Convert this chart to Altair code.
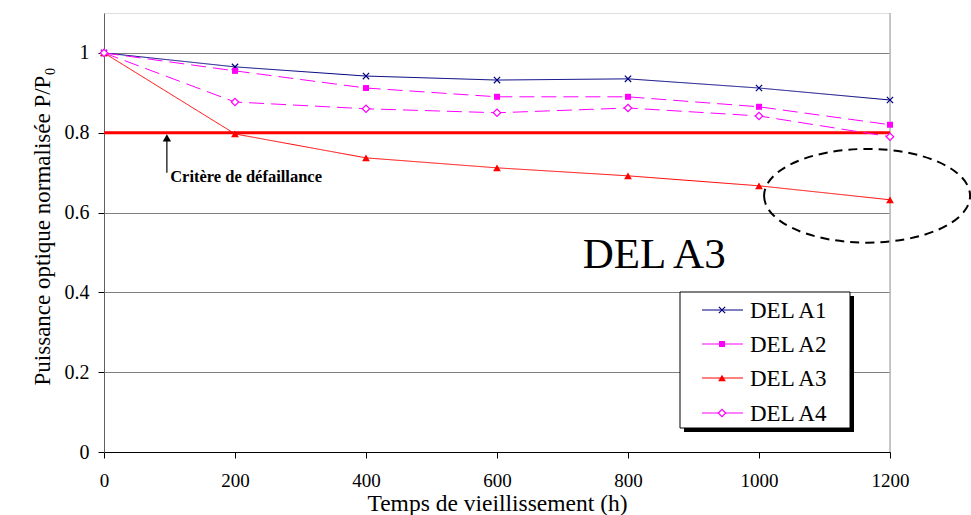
import altair as alt
import pandas as pd

# Ageing times (h) and normalised optical power P/P0 of each LED
hours = [0, 200, 400, 600, 800, 1000, 1200]
del_a1 = [1.0, 0.965, 0.942, 0.932, 0.935, 0.912, 0.882]
del_a2 = [1.0, 0.955, 0.912, 0.890, 0.890, 0.865, 0.820]
del_a3 = [1.0, 0.797, 0.737, 0.712, 0.692, 0.667, 0.632]
del_a4 = [1.0, 0.877, 0.860, 0.850, 0.862, 0.842, 0.790]
series_names = ["DEL A1", "DEL A2", "DEL A3", "DEL A4"]
failure_level = 0.8
x_ticks = [0, 200, 400, 600, 800, 1000, 1200]
y_ticks = [0, 0.2, 0.4, 0.6, 0.8, 1.0]

SERIF = "Times New Roman, Liberation Serif, DejaVu Serif, serif"
W, H = 786, 439

x_scale = alt.Scale(domain=[0, 1200], nice=False, zero=False)
y_scale = alt.Scale(domain=[0, 1.1], nice=False)

X_CROSS = "M-1,-1L1,1M-1,1L1,-1"
styles = {
    "DEL A1": dict(color="#000080", dash=[1, 0], shape=X_CROSS, filled=False, size=40, width=1),
    "DEL A2": dict(color="#FF00FF", dash=[15, 7], shape="square", filled=True, size=36, width=1),
    "DEL A3": dict(color="#FF0000", dash=[1, 0], shape="triangle-up", filled=True, size=60, width=1),
    "DEL A4": dict(color="#FF00FF", dash=[15, 7], shape="diamond", filled=False, size=55, width=1),
}
values = dict(zip(series_names, [del_a1, del_a2, del_a3, del_a4]))

X = alt.X("h:Q", scale=x_scale,
          axis=alt.Axis(values=x_ticks, title="Temps de vieillissement (h)", format="d",
                        grid=False, domainColor="#000000", tickColor="#000000",
                        tickSize=6, labelPadding=13, titlePadding=1,
                        labelFont=SERIF, labelFontSize=19, labelColor="#000000",
                        titleFont=SERIF, titleFontSize=23.5, titleFontWeight="normal",
                        titleColor="#000000", labelFlush=False))
Y = alt.Y("v:Q", scale=y_scale,
          axis=alt.Axis(values=y_ticks, title="Puissance optique normalisée P/P₀", format="~g",
                        grid=True, gridColor="#808080", gridWidth=1,
                        domainColor="#606060", tickColor="#000000", tickSize=6,
                        labelPadding=9, titlePadding=10, titleY=213,
                        labelFont=SERIF, labelFontSize=20, labelColor="#000000",
                        titleFont=SERIF, titleFontSize=23, titleFontWeight="normal",
                        titleColor="#000000"))

# Axes and horizontal grid
base = alt.Chart(pd.DataFrame({"h": [0], "v": [0]})).mark_point(opacity=0).encode(x=X, y=Y)

# Right-hand plot border
right_border = alt.Chart(pd.DataFrame({"h": [1200], "v": [0], "v2": [1.1]})).mark_rule(
    color="#b8b8b8", strokeWidth=1.5).encode(x="h:Q", y="v:Q", y2="v2:Q")

# Failure criterion line
criterion = alt.Chart(pd.DataFrame({"h": [0], "h2": [1200], "v": [failure_level]})).mark_rule(
    color="#FF0000", strokeWidth=3).encode(x="h:Q", x2="h2:Q", y="v:Q")

layers = [base, right_border, criterion]
for name in series_names:
    st = styles[name]
    df = pd.DataFrame({"h": hours, "v": values[name]})
    line = alt.Chart(df).mark_line(color=st["color"], strokeWidth=st["width"],
                                   strokeDash=st["dash"]).encode(x="h:Q", y="v:Q")
    pts = alt.Chart(df).mark_point(shape=st["shape"], filled=st["filled"], size=st["size"],
                                   color=st["color"], fill=st["color"] if st["filled"] else "white",
                                   opacity=1, strokeWidth=1.2).encode(x="h:Q", y="v:Q")
    layers += [line, pts]

# Arrow pointing to the criterion line, with its caption
arrow_h = 96
arrow_line = alt.Chart(pd.DataFrame({"h": [arrow_h], "v": [0.70], "v2": [0.783]})).mark_rule(
    color="#000000", strokeWidth=1.2).encode(x="h:Q", y="v:Q", y2="v2:Q")
arrow_head = alt.Chart(pd.DataFrame({"h": [arrow_h], "v": [0.787]})).mark_point(
    shape="triangle-up", filled=True, color="#000000", size=70, opacity=1).encode(x="h:Q", y="v:Q")
caption = alt.Chart(pd.DataFrame({"h": [101], "v": [0.688], "t": ["Critère de défaillance"]})).mark_text(
    font=SERIF, fontSize=16.5, fontWeight="bold", align="left", baseline="middle", color="#000000"
).encode(x="h:Q", y="v:Q", text="t:N")

# Highlighted device and its last points
big_label = alt.Chart(pd.DataFrame({"h": [840], "v": [0.494], "t": ["DEL A3"]})).mark_text(
    font=SERIF, fontSize=43, align="center", baseline="middle", color="#000000"
).encode(x="h:Q", y="v:Q", text="t:N")
ellipse = alt.Chart(pd.DataFrame({"h": [1165], "v": [0.642]})).mark_point(
    shape="M-1,0A1,0.455 0 1,0 1,0A1,0.455 0 1,0 -1,0", size=206 * 206,
    filled=False, color="#000000", strokeWidth=2, strokeDash=[9, 6], opacity=1
).encode(x="h:Q", y="v:Q")

layers += [arrow_line, arrow_head, caption, big_label, ellipse]

# Legend box (pixel positions within the plot area)
lx0, lx1, ly0, ly1 = 576, 746, 279, 415
shadow = alt.Chart(pd.DataFrame({"a": [0]})).mark_rect(color="#000000").encode(
    x=alt.value(lx0 + 4), x2=alt.value(lx1 + 4), y=alt.value(ly0 + 4), y2=alt.value(ly1 + 4))
box = alt.Chart(pd.DataFrame({"a": [0]})).mark_rect(
    fill="#ffffff", stroke="#000000", strokeWidth=1).encode(
    x=alt.value(lx0), x2=alt.value(lx1), y=alt.value(ly0), y2=alt.value(ly1))
layers += [shadow, box]

row_y = [297, 331, 365, 400]
for name, ry in zip(series_names, row_y):
    st = styles[name]
    one = pd.DataFrame({"t": [name]})
    layers.append(alt.Chart(one).mark_rule(color=st["color"], strokeWidth=1).encode(
        x=alt.value(598), x2=alt.value(639), y=alt.value(ry)))
    layers.append(alt.Chart(one).mark_point(
        shape=st["shape"], filled=st["filled"], size=st["size"], color=st["color"],
        fill=st["color"] if st["filled"] else "white", opacity=1, strokeWidth=1.2).encode(
        x=alt.value(618), y=alt.value(ry)))
    layers.append(alt.Chart(one).mark_text(
        font=SERIF, fontSize=23, align="left", baseline="middle", color="#000000").encode(
        x=alt.value(646), y=alt.value(ry + 1), text="t:N"))

chart = alt.layer(*layers).properties(
    width=W, height=H,
    autosize=alt.AutoSizeParams(type="none"),
    padding={"left": 104, "top": 13, "right": 81, "bottom": 63},
).configure_view(stroke=None).configure(background="#ffffff")

chart.save("out.html", embed_options={"renderer": "svg", "actions": False})
